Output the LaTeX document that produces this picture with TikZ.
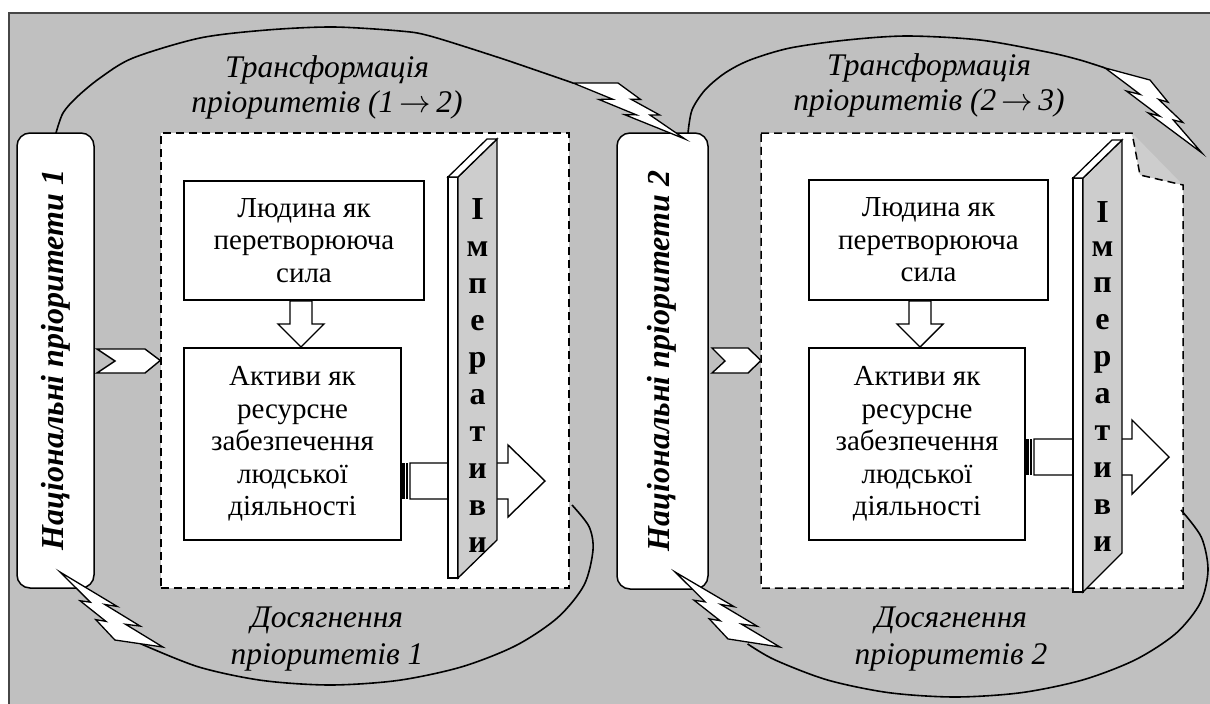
\RequirePackage{fix-cm}
\documentclass[tikz,border=0pt]{standalone}
\usepackage{fontspec}
\setmainfont{Liberation Serif}
\usetikzlibrary{calc}
\definecolor{bgc}{RGB}{192,192,192}
\definecolor{framec}{RGB}{70,70,70}
\definecolor{barface}{RGB}{205,205,205}
\newcommand\mybolt[3]{%
  \draw[boltst] ($(#1)+0.3922*(#2)$)
   -- ($(#1)+0.5954*(#2)+0.2815*(#3)$)
   -- ($(#1)+0.5116*(#2)+0.3147*(#3)$)
   -- ($(#1)+0.7675*(#2)+0.5559*(#3)$)
   -- ($(#1)+0.6837*(#2)+0.5962*(#3)$)
   -- ($(#1)+1*(#2)+1*(#3)$)
   -- ($(#1)+0.4635*(#2)+0.6905*(#3)$)
   -- ($(#1)+0.5658*(#2)+0.6475*(#3)$)
   -- ($(#1)+0.2325*(#2)+0.4493*(#3)$)
   -- ($(#1)+0.3519*(#2)+0.3881*(#3)$)
   -- ($(#1)+0.1801*(#3)$) -- cycle;}
\begin{document}
\begin{tikzpicture}[x=1pt,y=-1pt,
  pbox/.style={draw, line width=1.5pt, fill=white, rounded corners=13pt, inner sep=0pt},
  dbox/.style={draw, line width=1.5pt, fill=white, dash pattern=on 8pt off 5pt, inner sep=0pt},
  tbox/.style={draw, line width=1.5pt, fill=white, inner sep=0pt, align=center,
     font=\fontsize{29}{32.5}\selectfont},
  vlabel/.style={rotate=90, font=\fontsize{32}{34}\selectfont\bfseries\itshape},
  ilabel/.style={align=center, font=\fontsize{31.5}{35}\selectfont\itshape},
  glabel/.style={align=center, font=\fontsize{31.5}{37}\selectfont\itshape},
  letter/.style={anchor=base, font=\fontsize{32}{32}\selectfont\bfseries, inner sep=0pt},
  arcst/.style={line width=1.6pt},
  boltst/.style={draw, fill=white, line width=1.3pt, line join=miter},
  shapest/.style={draw, fill=white, line width=1.4pt, line join=miter},
  barst/.style={draw, line width=1.3pt, line join=miter}]
\useasboundingbox (0,0) rectangle (1210,704);
\fill[white] (0,0) rectangle (1210,704);
\fill[bgc] (9,13) rectangle (1210,704);
\draw[framec, line width=2pt] (9,704) -- (9,13) -- (1210,13);

% priority boxes
\node[pbox, minimum width=77pt, minimum height=455pt] (p1) at (55.5,360.5) {};
\node[vlabel] (p1t) at (56,360) {Національні пріоритети 1};
\node[pbox, minimum width=91pt, minimum height=456pt] (p2) at (662.5,361) {};
\node[vlabel] (p2t) at (662,361) {Національні пріоритети 2};

% dashed areas
\node[dbox, minimum width=408pt, minimum height=455pt] (d1) at (365,360.5) {};
\coordinate (d2) at (761,360.5);
\fill[white] (761,133) -- (1132,133) -- (1140,175) -- (1183,185) -- (1183,588) -- (761,588) -- cycle;
\fill[barface] (1132,133) -- (1140,175) -- (1183,185) -- cycle;
\draw[line width=1.5pt, dash pattern=on 8pt off 5pt] (761,133) -- (1132,133) -- (1140,175) -- (1183,185) -- (1183,588) -- (761,588) -- cycle;

% inner boxes
\node[tbox, minimum width=240pt, minimum height=119pt] (a1) at (304,240.5) {Людина як\\перетворююча\\сила};
\node[tbox, minimum width=217pt, minimum height=192pt] (b1) at (292.5,444) {Активи як\\ресурсне\\забезпечення\\людської\\діяльності};
\node[tbox, minimum width=239pt, minimum height=120pt] (a2) at (928.5,240) {Людина як\\перетворююча\\сила};
\node[tbox, minimum width=216pt, minimum height=192pt] (b2) at (917,444) {Активи як\\ресурсне\\забезпечення\\людської\\діяльності};

% down hollow arrows
\draw[shapest] (290,301) -- (312,301) -- (312,324) -- (324,324) -- (301,347) -- (278,324) -- (290,324) -- cycle;
\draw[shapest] (909,301) -- (931,301) -- (931,324) -- (943,324) -- (920,347) -- (897,324) -- (909,324) -- cycle;

% chevrons
\draw[shapest] (97,349) -- (145,349) -- (d1.west) -- (145,373) -- (97,373) -- (115,361) -- cycle;
\draw[shapest] (712,348) -- (748,348) -- (d2) -- (748,373) -- (712,373) -- (725,361) -- cycle;

% striped block arrows (behind bars)
\fill (401,463) rectangle (404.5,499);
\fill (406,463) rectangle (407.5,499);
\draw[shapest] (410,463) -- (508,463) -- (508,445) -- (545,481) -- (508,517) -- (508,499) -- (410,499) -- cycle;
\fill (1025,439) rectangle (1028.5,475);
\fill (1030,439) rectangle (1031.5,475);
\draw[shapest] (1034,439) -- (1132,439) -- (1132,420) -- (1169,457) -- (1132,494) -- (1132,475) -- (1034,475) -- cycle;

% bars "Імперативи"
\draw[barst, fill=white] (448,177) rectangle (458,578);
\draw[barst, fill=barface] (458,177) -- (497,139) -- (497,540) -- (458,578) -- cycle;
\draw[barst, fill=white] (448,177) -- (487,139) -- (497,139) -- (458,177) -- cycle;
\foreach \ch/\yy in {І/219, м/256, п/293, е/330, р/367, а/404, т/441, и/478, в/515, и/552}
  \node[letter] at (477.5,\yy) {\ch};
\draw[barst, fill=white] (1073,178) rectangle (1083,592);
\draw[barst, fill=barface] (1083,178) -- (1122,140) -- (1122,553) -- (1083,592) -- cycle;
\draw[barst, fill=white] (1073,178) -- (1112,140) -- (1122,140) -- (1083,178) -- cycle;
\foreach \ch/\yy in {І/222, м/256, п/292, е/329, р/366, а/403, т/440, и/477, в/514, и/551}
  \node[letter] at (1102.5,\yy) {\ch};

% arcs
\draw[arcst] plot[smooth] coordinates {(56,133) (63,113) (77,97) (100,78) (133,58) (200,38) (267,30) (333,27) (400,31) (430,36) (497,57) (547,74) (573,83)};
\draw[arcst] plot[smooth] coordinates {(688,133) (692,110) (705,90) (725,73) (750,60) (790,48) (847,40) (907,36) (980,40) (1047,52) (1080,60) (1105,68)};
\draw[arcst] plot[smooth] coordinates {(572,505) (589,526.5) (593,550) (584.1,585) (557.8,617.5) (516,645.5) (461.5,666.9) (398.1,680.4) (330,685) (261.9,680.4) (198.5,666.9) (140.8,643.8)};
\draw[arcst] plot[smooth] coordinates {(1181,510) (1201.3,537.1) (1208,570) (1200.3,602.9) (1175.8,633.5) (1135.3,659.8) (1082.5,680) (1021,692.7) (955,697) (889,692.7) (827.5,680) (774.7,659.8) (747.6,643.9)};

% lightning bolts
\mybolt{573.4,75.1}{113.9,20.25}{-2.3,43.7}
\mybolt{1107.5,60.3}{108.4,50.3}{-13.95,42.4}
\mybolt{160.2,655.1}{-115.5,-38.5}{15.3,-44.6}
\mybolt{776.1,654.7}{-122.7,-40.2}{21.7,-42.5}

% labels
\node[ilabel] (t1) at (327,87) {Трансформація\\пріоритетів (1\,$\rightarrow$\,2)};
\node[ilabel] (t2) at (929,85) {Трансформація\\пріоритетів (2\,$\rightarrow$\,3)};
\node[glabel] (g1) at (327,639) {Досягнення\\пріоритетів 1};
\node[glabel] (g2) at (951,639) {Досягнення\\пріоритетів 2};
\end{tikzpicture}
\end{document}
